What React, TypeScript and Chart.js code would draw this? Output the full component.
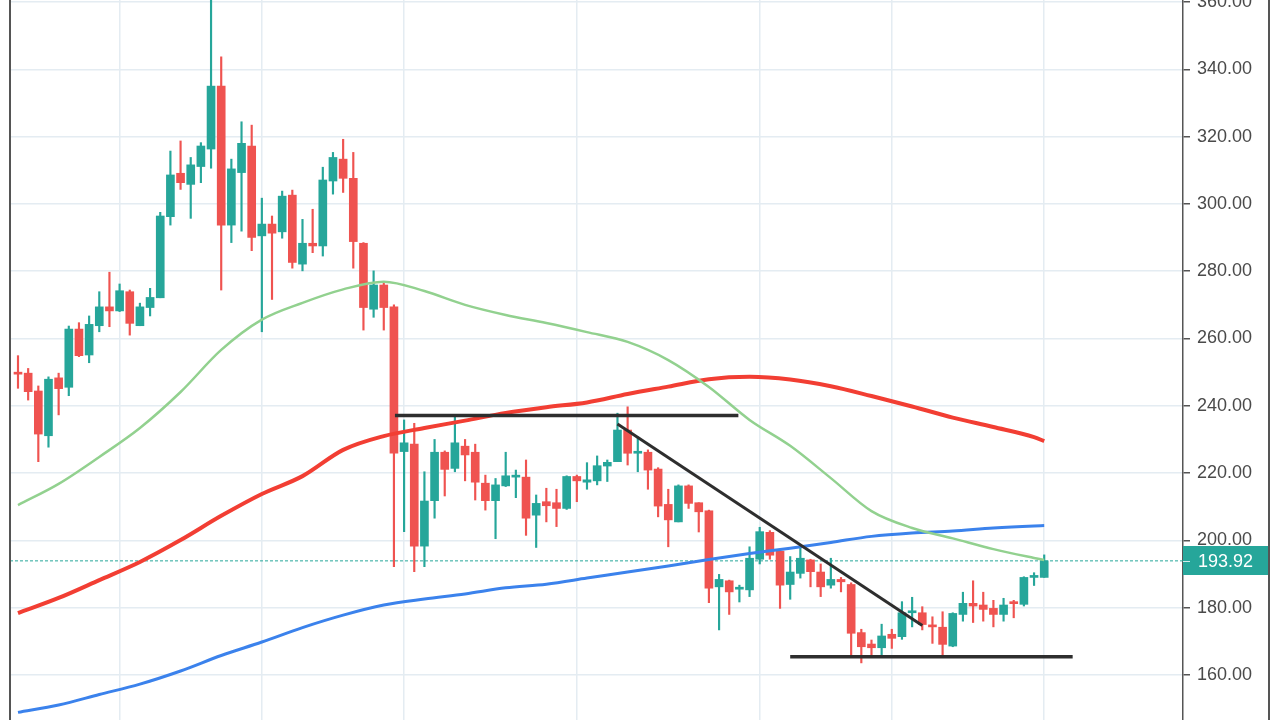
import { useEffect, useRef } from 'react';
import { Chart, registerables } from 'chart.js';

Chart.register(...registerables);

// Candle data (index = trading period)
const opens = [
  249.7, 249.7, 244.4, 231.1, 248.3, 245.5, 262.8, 255.1, 263.8, 269.4,
  268.2, 273.9, 263.8, 269.2, 272.1, 296.2, 309.1, 305.8, 311.1, 316.3,
  335.0, 293.7, 309.3, 317.2, 290.5, 294.0, 291.7, 302.6, 282.1, 288.3,
  287.5, 306.8, 313.3, 307.6, 288.3, 268.7, 275.9, 269.4, 226.4, 228.6,
  198.3, 211.8, 226.2, 221.4, 228.0, 226.2, 217.0, 211.8, 216.2, 218.8,
  218.8, 207.5, 211.5, 211.2, 209.5, 219.0, 217.3, 217.7, 222.1, 223.4,
  232.8, 225.9, 226.2, 221.2, 210.7, 205.5, 216.2, 211.2, 208.8, 186.2,
  188.0, 185.5, 185.3, 194.4, 202.4, 196.8, 186.9, 190.2, 194.2, 190.6,
  186.7, 188.4, 186.9, 172.6, 169.2, 168.1, 172.1, 171.4, 178.5, 178.5,
  174.7, 174.2, 168.6, 178.0, 181.3, 180.8, 179.8, 178.0, 181.6, 181.0,
  189.0, 189.0,
];
const highs = [
  254.9, 251.1, 245.9, 248.6, 249.7, 263.7, 264.7, 266.7, 273.9, 279.7,
  276.2, 274.4, 270.5, 274.9, 297.5, 315.7, 318.7, 313.8, 318.2, 362.0,
  343.7, 313.3, 324.4, 323.4, 301.7, 296.4, 303.8, 304.1, 295.4, 298.4,
  310.9, 315.3, 319.2, 315.3, 288.5, 280.1, 276.6, 270.0, 235.8, 234.8,
  220.4, 230.0, 226.6, 237.0, 230.0, 228.6, 219.4, 218.4, 226.2, 220.9,
  223.9, 213.5, 215.5, 215.2, 219.2, 219.4, 223.1, 225.1, 223.9, 237.8,
  239.7, 230.8, 226.9, 221.6, 215.2, 216.5, 216.5, 211.2, 209.0, 189.9,
  188.2, 186.7, 198.1, 203.9, 202.9, 197.0, 195.2, 197.9, 194.4, 193.0,
  194.7, 189.0, 187.4, 173.6, 170.4, 175.1, 173.6, 181.8, 183.1, 180.3,
  177.3, 178.8, 178.5, 184.6, 188.0, 184.6, 182.2, 182.8, 182.2, 189.2,
  190.4, 195.7,
];
const lows = [
  245.2, 241.7, 223.4, 227.7, 237.3, 243.0, 254.6, 252.8, 262.0, 263.5,
  268.0, 261.0, 263.8, 266.7, 272.1, 293.7, 304.3, 295.7, 306.3, 310.6,
  274.4, 288.5, 291.9, 286.1, 262.0, 271.6, 289.8, 280.9, 280.1, 285.5,
  284.5, 302.9, 303.4, 280.9, 262.5, 266.3, 262.5, 192.2, 202.6, 190.7,
  192.2, 206.6, 213.2, 220.4, 217.7, 212.0, 209.0, 200.5, 216.0, 212.7,
  201.5, 197.9, 205.5, 204.1, 209.2, 211.5, 215.2, 216.5, 217.5, 223.4,
  222.4, 220.4, 215.2, 207.0, 198.1, 205.5, 209.5, 202.5, 181.5, 173.4,
  178.0, 181.7, 183.3, 193.0, 194.4, 179.8, 182.5, 188.8, 186.2, 183.3,
  185.8, 184.7, 166.0, 163.6, 165.4, 166.0, 167.9, 170.6, 174.3, 173.4,
  169.4, 166.0, 168.4, 176.0, 175.6, 176.0, 174.3, 176.0, 177.0, 180.5,
  186.6, 189.0,
];
const closes = [
  249.4, 244.2, 231.6, 247.9, 245.1, 262.8, 254.9, 264.2, 269.4, 268.2,
  274.2, 264.5, 269.4, 272.2, 296.4, 308.6, 306.3, 311.6, 317.2, 335.0,
  293.7, 310.4, 318.0, 290.0, 294.0, 291.3, 302.3, 282.6, 288.3, 287.5,
  307.1, 313.8, 307.6, 288.8, 269.2, 275.9, 269.2, 225.9, 229.0, 198.3,
  211.7, 226.2, 221.1, 229.0, 225.4, 217.3, 211.8, 216.5, 219.2, 219.2,
  206.6, 211.0, 210.3, 209.5, 219.0, 217.7, 218.0, 222.2, 223.2, 232.8,
  225.9, 226.2, 220.9, 210.2, 206.1, 216.2, 211.0, 208.5, 185.8, 188.4,
  184.7, 185.8, 194.7, 202.6, 195.6, 186.7, 190.6, 194.7, 190.7, 186.2,
  188.4, 187.7, 172.4, 168.4, 168.1, 171.6, 170.9, 178.5, 178.9, 175.0,
  174.3, 169.1, 178.3, 181.3, 180.5, 179.5, 178.0, 180.8, 181.2, 189.0,
  189.4, 193.92,
];

// Moving averages, read at these period indices
const maIdx = [0, 4, 8, 12, 16, 20, 24, 28, 32, 36, 40, 44, 48, 52, 56, 60, 64, 68, 72, 76, 80, 84, 88, 92, 96, 100, 101];
const maGreen = [210.5, 216.8, 224.8, 233.4, 244.1, 256.6, 265.6, 270.6, 274.6, 276.9, 274.1, 270.0, 267.0, 264.6, 261.9, 259.0, 253.6, 245.6, 235.8, 228.1, 218.5, 208.7, 203.7, 200.6, 197.4, 194.8, 194.2];
const maRed = [178.4, 182.9, 188.2, 193.6, 200.1, 207.3, 213.8, 219.1, 226.9, 231.0, 233.4, 235.6, 237.9, 239.6, 241.0, 243.5, 245.7, 247.9, 248.6, 247.8, 245.8, 242.9, 239.8, 236.5, 233.7, 230.7, 229.5];
const maBlue = [148.9, 151.1, 154.2, 157.3, 161.2, 165.8, 169.8, 174.1, 177.8, 180.8, 182.6, 184.1, 185.9, 187.0, 188.8, 190.6, 192.4, 194.3, 196.1, 197.7, 199.4, 201.2, 202.2, 202.8, 203.7, 204.3, 204.4];

// Drawn trend lines (period index, price)
const resistX = [37.1, 70.9];
const resistY = [237.1, 237.1];
const trendX = [59.0, 89.0];
const trendY = [234.6, 174.7];
const supportX = [76.0, 103.8];
const supportY = [165.4, 165.4];

const lastPrice = 193.92;
const yTicks = [160, 180, 200, 220, 240, 260, 280, 300, 320, 340, 360];
const xGridIdx = [10, 24, 38, 55, 73, 86, 101];
const xMin = -0.787;
const xMax = 114.66;
const yMin = 146.63;
const yMax = 360.59;

const UP = '#26a69a';
const DOWN = '#ef5350';
const GRID = '#e4ecf2';
const AXIS = '#555555';

export default function App() {
  const ref = useRef<HTMLCanvasElement>(null);

  useEffect(() => {
    if (!ref.current) return;
    const colorFor = (i: number) => (closes[i] >= opens[i] ? UP : DOWN);
    const idx = opens.map((_, i) => i);
    const pairs = (xs: number[], ys: number[]) => xs.map((x, i) => ({ x, y: ys[i] }));

    const overlay = {
      id: 'overlay',
      afterDraw(chart: any) {
        const { ctx, chartArea, scales } = chart;
        const y = scales.y.getPixelForValue(lastPrice);
        const boxW = 86;
        ctx.save();
        ctx.fillStyle = UP;
        ctx.fillRect(chartArea.right, Math.round(y) - 15, boxW, 29);
        ctx.strokeStyle = 'rgba(255,255,255,0.8)';
        ctx.lineWidth = 1;
        ctx.beginPath();
        ctx.moveTo(chartArea.right, Math.round(y) + 0.5);
        ctx.lineTo(chartArea.right + 7, Math.round(y) + 0.5);
        ctx.stroke();
        ctx.fillStyle = '#ffffff';
        ctx.font = '18px "Liberation Sans"';
        ctx.textBaseline = 'middle';
        ctx.textAlign = 'left';
        ctx.fillText(lastPrice.toFixed(2), chartArea.right + 15, y + 1);
        ctx.strokeStyle = AXIS;
        ctx.lineWidth = 2;
        ctx.beginPath();
        ctx.moveTo(chartArea.left, 0);
        ctx.lineTo(chartArea.left, chart.height);
        ctx.moveTo(chartArea.right + boxW, 0);
        ctx.lineTo(chartArea.right + boxW, chart.height);
        ctx.stroke();
        ctx.restore();
      },
    };

    const chart = new Chart(ref.current, {
      type: 'bar',
      data: {
        datasets: [
          {
            type: 'line',
            data: pairs(resistX, resistY),
            borderColor: '#2e2e2e',
            borderWidth: 3.5,
            pointRadius: 0,
            order: 0,
          },
          {
            type: 'line',
            data: pairs(trendX, trendY),
            borderColor: '#2e2e2e',
            borderWidth: 3,
            pointRadius: 0,
            order: 0,
          },
          {
            type: 'line',
            data: pairs(supportX, supportY),
            borderColor: '#2e2e2e',
            borderWidth: 3.5,
            pointRadius: 0,
            order: 0,
          },
          {
            type: 'line',
            data: pairs(maIdx, maGreen),
            borderColor: '#92d18f',
            borderWidth: 2.5,
            cubicInterpolationMode: 'monotone',
            pointRadius: 0,
            order: 1,
          },
          {
            type: 'line',
            data: pairs(maIdx, maRed),
            borderColor: '#f23e33',
            borderWidth: 4,
            cubicInterpolationMode: 'monotone',
            pointRadius: 0,
            order: 1,
          },
          {
            type: 'line',
            data: pairs(maIdx, maBlue),
            borderColor: '#3b82ec',
            borderWidth: 3,
            cubicInterpolationMode: 'monotone',
            pointRadius: 0,
            order: 1,
          },
          {
            type: 'bar',
            data: idx.map((i) => ({ x: i, y: [Math.min(opens[i], closes[i]), Math.max(opens[i], closes[i])] })) as any,
            backgroundColor: (c: any) => colorFor(c.dataIndex),
            barThickness: 8,
            minBarLength: 2,
            grouped: false,
            borderWidth: 0,
            order: 2,
          },
          {
            type: 'bar',
            data: idx.map((i) => ({ x: i, y: [lows[i], highs[i]] })) as any,
            backgroundColor: (c: any) => colorFor(c.dataIndex),
            barThickness: 1.5,
            grouped: false,
            borderWidth: 0,
            order: 3,
          },
          {
            type: 'line',
            data: [
              { x: xMin, y: lastPrice },
              { x: xMax, y: lastPrice },
            ],
            borderColor: UP,
            borderWidth: 1,
            borderDash: [3, 2],
            pointRadius: 0,
            order: 4,
          },
        ] as any,
      },
      options: {
        animation: false,
        responsive: false,
        maintainAspectRatio: false,
        layout: { padding: { left: 10, right: 0, top: 0, bottom: 0 } },
        plugins: { legend: { display: false }, tooltip: { enabled: false } },
        scales: {
          x: {
            type: 'linear',
            min: xMin,
            max: xMax,
            offset: false,
            afterBuildTicks: (s: any) => {
              s.ticks = xGridIdx.map((v) => ({ value: v }));
            },
            afterFit: (s: any) => {
              s.height = 0;
            },
            ticks: { display: false },
            grid: { color: GRID, lineWidth: 1.5, drawTicks: false, offset: false },
            border: { display: false },
          },
          y: {
            type: 'linear',
            position: 'right',
            min: yMin,
            max: yMax,
            afterBuildTicks: (s: any) => {
              s.ticks = yTicks.map((v) => ({ value: v }));
            },
            afterFit: (s: any) => {
              s.width = 97;
              s.paddingTop = 0;
              s.paddingBottom = 0;
            },
            ticks: {
              padding: 7,
              color: '#4a4a4a',
              font: { family: 'Liberation Sans', size: 18 },
              callback: (v: any) => Number(v).toFixed(2),
            },
            grid: { color: GRID, lineWidth: 1.5, tickColor: AXIS, tickLength: 7, tickWidth: 1.5 },
            border: { display: true, color: AXIS, width: 1.5 },
          },
        },
      } as any,
      plugins: [overlay],
    });
    return () => chart.destroy();
  }, []);

  return (
    <div style={{ position: 'absolute', left: 0, top: 0, width: 1280, height: 720, background: '#ffffff' }}>
      <canvas ref={ref} width={1280} height={720} style={{ display: 'block' }} />
    </div>
  );
}
